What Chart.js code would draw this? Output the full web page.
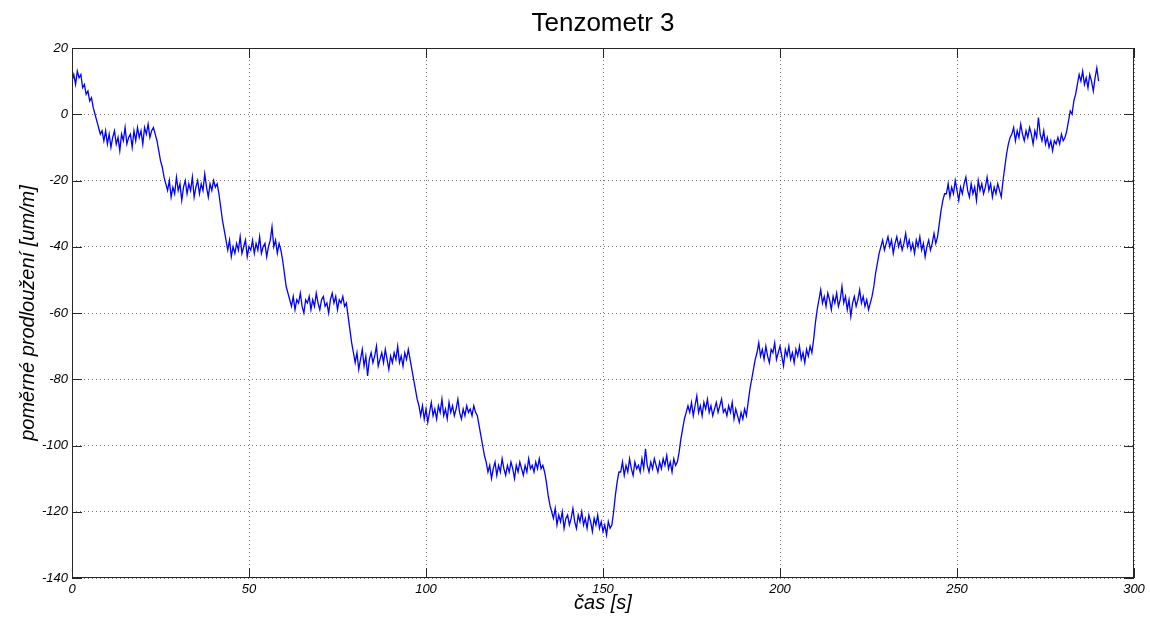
<!DOCTYPE html>
<html>
<head>
<meta charset="utf-8">
<title>Tenzometr 3</title>
<script src="https://cdn.jsdelivr.net/npm/chart.js@4.4.0/dist/chart.umd.min.js"></script>
<style>
  html, body { margin: 0; padding: 0; background: #fff; }
  #strainChart { display: block; }
</style>
</head>
<body>
<canvas id="strainChart" width="1150" height="622"></canvas>
<script>
// Strain gauge 3 record, one sample every 0.5 s
const sampleStep = 0.5;
const strain = [
  // 0 - 8.5 s
  10, 12, 9, 13, 11, 12, 8, 9, 6, 7, 4, 5, 2, 0, -2, -4, -6, -5,
  // 9 - 23.5 s
  -8, -5, -9, -6, -10, -7, -5, -9, -7, -11, -6, -8, -4, -9, -7,
  -6, -10, -5, -8, -4, -7, -5, -9, -4, -6, -3, -7, -5, -4, -6,
  -8, -11, -14, -16, -19, -21,
  // 27 - 41 s
  -23, -20, -25, -22, -24, -19, -23, -21, -26, -22, -20, -24, -21, -23, -19,
  -25, -22, -20, -24, -21, -23, -18, -22, -25, -21, -23, -20, -22, -21,
  -24, -28, -32, -35, -38,
  // 44 - 59 s
  -41, -38, -43, -40, -42, -39, -41, -37, -42, -40, -38, -43, -40, -41, -38, -42,
  -39, -41, -37, -42, -40, -39, -43, -40, -38, -34, -40, -38, -42, -39, -41,
  -44, -48, -52, -54, -56,
  // 62 - 77.5 s
  -58, -55, -59, -56, -57, -54, -58, -60, -56, -57, -55, -59, -56, -58, -54, -57,
  -59, -56, -55, -58, -57, -60, -56, -54, -57, -55, -59, -56, -57, -55, -58, -57,
  -61, -65, -69, -72,
  // 80 - 95.5 s
  -75, -72, -77, -74, -71, -76, -73, -79, -74, -72, -75, -73, -70, -76, -74, -72,
  -75, -71, -74, -77, -73, -75, -72, -74, -70, -75, -73, -76, -72, -74, -71, -74,
  -77, -80, -83, -86, -88,
  // 98.5 - 114.5 s
  -91, -88, -92, -89, -93, -90, -87, -91, -89, -92, -88, -90, -86, -91, -89, -92, -87,
  -90, -88, -91, -89, -86, -90, -92, -89, -91, -88, -90, -89, -91, -88, -90, -91,
  -94, -97, -100, -103, -105,
  // 117.5 - 133.5 s
  -108, -106, -110, -107, -105, -109, -106, -108, -104, -107, -109, -106, -108, -105, -107, -110, -106,
  -108, -105, -107, -109, -106, -108, -104, -107, -106, -108, -105, -107, -104, -107, -106, -108,
  -111, -115, -118, -120,
  // 136 - 152.5 s
  -122, -119, -124, -121, -123, -120, -125, -122, -121, -124, -122, -119, -123, -125, -121, -123, -120,
  -124, -122, -125, -121, -123, -126, -122, -124, -121, -125, -123, -126, -124, -127, -123, -125, -124,
  -120, -115, -111, -108,
  // 155 - 171 s
  -108, -105, -109, -106, -108, -104, -107, -109, -105, -107, -106, -108, -104, -107, -101, -106, -108,
  -105, -107, -104, -106, -108, -105, -107, -104, -106, -103, -107, -105, -108, -104, -106, -105,
  -102, -98, -95, -92, -90, -88,
  // 174.5 - 190.5 s
  -90, -87, -91, -88, -85, -90, -88, -91, -87, -89, -86, -90, -88, -91, -89, -87, -90,
  -88, -86, -90, -89, -91, -88, -90, -87, -92, -89, -91, -93, -90, -92, -89, -91,
  -87, -83, -80, -77, -74,
  // 193.5 - 209 s
  -72, -69, -73, -71, -74, -70, -73, -75, -71, -72, -69, -74, -72, -70, -73, -76,
  -71, -73, -70, -74, -72, -75, -71, -73, -70, -74, -72, -75, -71, -73, -70, -72,
  -68, -63, -59,
  // 211 - 226 s
  -56, -53, -57, -55, -58, -54, -56, -59, -55, -57, -54, -58, -56, -52, -57, -55,
  -59, -56, -61, -57, -55, -58, -56, -53, -57, -55, -58, -56, -59, -57, -55,
  -52, -48, -45, -42, -40,
  // 229 - 244.5 s
  -38, -41, -39, -37, -40, -38, -42, -39, -37, -40, -38, -41, -39, -36, -40, -38,
  -41, -39, -42, -38, -40, -37, -41, -39, -43, -40, -38, -41, -39, -36, -39, -37,
  -33, -29, -26, -24,
  // 247 - 262.5 s
  -24, -21, -25, -22, -24, -20, -23, -26, -22, -24, -21, -19, -23, -25, -21, -24,
  -22, -26, -20, -23, -21, -24, -22, -19, -23, -21, -25, -22, -24, -21, -23, -25,
  -20, -16, -12, -9, -7,
  // 265.5 - 281 s
  -6, -4, -8, -5, -7, -3, -6, -8, -5, -7, -4, -6, -9, -5, -7, -1,
  -6, -8, -5, -9, -7, -10, -8, -11, -8, -9, -7, -9, -6, -8, -7, -5,
  -2, 1, 0, 4, 6, 9, 12,
  // 285 - 290 s
  10, 13, 9, 11, 8, 12, 10, 7, 11, 14, 10
];

const xTickValues = [0, 50, 100, 150, 200, 250, 300];
const yTickValues = [-140, -120, -100, -80, -60, -40, -20, 0, 20];

const fontFamily = '"Liberation Sans", Arial, Helvetica, sans-serif';
const innerTickLength = 10;

// Box around the axes with the tick marks pointing inwards
const axesFrame = {
  id: 'axesFrame',
  afterDatasetsDraw(chart) {
    const { ctx, chartArea: a, scales: { x, y } } = chart;
    ctx.save();
    ctx.strokeStyle = '#262626';
    ctx.lineWidth = 1;
    ctx.setLineDash([]);
    ctx.beginPath();
    x.ticks.forEach(t => {
      const px = Math.round(x.getPixelForValue(t.value)) + 0.5;
      ctx.moveTo(px, a.bottom);
      ctx.lineTo(px, a.bottom - innerTickLength);
      ctx.moveTo(px, a.top);
      ctx.lineTo(px, a.top + innerTickLength);
    });
    y.ticks.forEach(t => {
      const py = Math.round(y.getPixelForValue(t.value)) + 0.5;
      ctx.moveTo(a.left, py);
      ctx.lineTo(a.left + innerTickLength, py);
      ctx.moveTo(a.right, py);
      ctx.lineTo(a.right - innerTickLength, py);
    });
    ctx.stroke();
    ctx.strokeRect(Math.round(a.left) + 0.5, Math.round(a.top) + 0.5,
      Math.round(a.right - a.left) - 1, Math.round(a.bottom - a.top) - 1);
    ctx.restore();
  }
};

Chart.defaults.color = '#000';
Chart.defaults.font.family = fontFamily;

const ctx = document.getElementById('strainChart');
new Chart(ctx, {
  type: 'line',
  data: {
    datasets: [{
      data: strain.map((v, i) => ({ x: i * sampleStep, y: v })),
      borderColor: '#0000ff',
      borderWidth: 1.3,
      pointRadius: 0,
      tension: 0,
      fill: false
    }]
  },
  options: {
    responsive: false,
    animation: false,
    parsing: false,
    layout: { padding: { top: 0, right: 16, bottom: 0, left: 0 } },
    plugins: {
      legend: { display: false },
      tooltip: { enabled: false },
      title: {
        display: true,
        text: 'Tenzometr 3',
        fullSize: false,
        color: '#000',
        font: { size: 26, weight: 'normal', lineHeight: 1.2 },
        padding: { top: 8, bottom: 8.8 }
      }
    },
    scales: {
      x: {
        type: 'linear',
        min: 0,
        max: 300,
        afterBuildTicks: scale => {
          scale.ticks = xTickValues.map(v => ({ value: v }));
        },
        afterFit: scale => { scale.height = 44; },
        ticks: {
          font: { size: 13, style: 'italic' },
          padding: 4,
          maxRotation: 0,
          autoSkip: false
        },
        grid: { color: 'rgba(0,0,0,0.55)', lineWidth: 1, drawTicks: false },
        border: { display: false, dash: [1, 3] },
        title: {
          display: true,
          text: 'čas [s]',
          font: { size: 20, style: 'italic', lineHeight: 1.2 },
          padding: { top: 0, bottom: 7 }
        }
      },
      y: {
        type: 'linear',
        min: -140,
        max: 20,
        afterBuildTicks: scale => {
          scale.ticks = yTickValues.map(v => ({ value: v }));
        },
        afterFit: scale => { scale.width = 72; },
        ticks: {
          font: { size: 13, style: 'italic' },
          padding: 4,
          autoSkip: false
        },
        grid: { color: 'rgba(0,0,0,0.55)', lineWidth: 1, drawTicks: false },
        border: { display: false, dash: [1, 3] },
        title: {
          display: true,
          text: 'poměrné prodloužení [um/m]',
          font: { size: 20, style: 'italic', lineHeight: 1.2 },
          padding: { top: 16, bottom: 0 }
        }
      }
    }
  },
  plugins: [axesFrame]
});
</script>
</body>
</html>
